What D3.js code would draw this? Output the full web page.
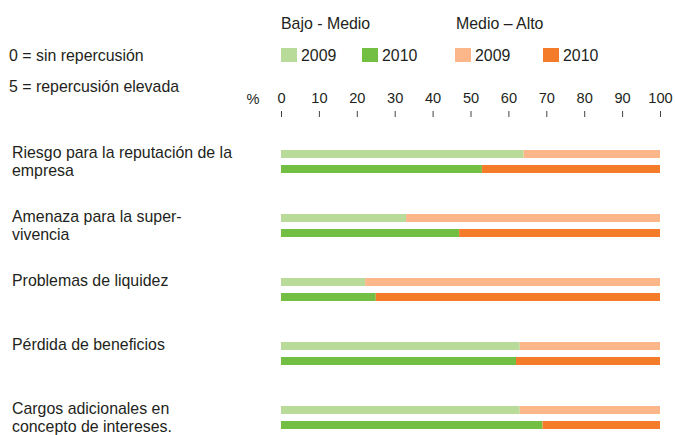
<!DOCTYPE html>
<html><head><meta charset="utf-8">
<script src="https://cdn.jsdelivr.net/npm/d3@7"></script>
<style>
html,body{margin:0;padding:0;background:#fff;}
svg{display:block;font-family:"Liberation Sans",Arial,Helvetica,sans-serif;}
</style></head>
<body><svg id="c" width="675" height="435"></svg>
<script>
const categories = [
  ["Riesgo para la reputación de la", "empresa"],
  ["Amenaza para la super-", "vivencia"],
  ["Problemas de liquidez"],
  ["Pérdida de beneficios"],
  ["Cargos adicionales en", "concepto de intereses."]
];
const bajoMedio2009 = [64, 33, 22.2, 63, 63];
const bajoMedio2010 = [53, 47, 25, 62, 69];
const medioAlto2009 = bajoMedio2009.map(v => 100 - v);
const medioAlto2010 = bajoMedio2010.map(v => 100 - v);
const tickValues = [0,10,20,30,40,50,60,70,80,90,100];
const colors = {lg:"#b8db9a", g:"#72bf44", lo:"#fbb78a", o:"#f47b2a"};

const svg = d3.select("#c");
const fs = 15.9;
const fsTick = 14.6;
const txt = "#231f20";
const x = d3.scaleLinear().domain([0,100]).range([281,660]);
const y = d3.scaleBand().domain(d3.range(categories.length)).range([142, 462]).paddingInner(0).paddingOuter(0);
const barH = 8;

// top notes
svg.append("text").attr("x",9).attr("y",61).attr("font-size",fs).attr("fill",txt).text("0 = sin repercusión");
svg.append("text").attr("x",9).attr("y",92).attr("font-size",fs).attr("fill",txt).text("5 = repercusión elevada");

// legend
const lg = svg.append("g");
lg.append("text").attr("x",281).attr("y",29).attr("font-size",fs).attr("fill",txt).text("Bajo - Medio");
lg.append("text").attr("x",456).attr("y",29).attr("font-size",fs).attr("fill",txt).text("Medio – Alto");
const items = [
  {c:colors.lg, t:"2009", x:281},
  {c:colors.g, t:"2010", x:362},
  {c:colors.lo, t:"2009", x:455},
  {c:colors.o, t:"2010", x:543}
];
items.forEach(d => {
  lg.append("rect").attr("x",d.x).attr("y",48).attr("width",16).attr("height",14).attr("fill",d.c);
  lg.append("text").attr("x",d.x+20).attr("y",61).attr("font-size",fs).attr("fill",txt).text(d.t);
});

// axis
const ax = svg.append("g").attr("transform","translate(0,111)")
  .call(d3.axisTop(x).tickValues(tickValues).tickSize(0).tickPadding(8).tickFormat(d3.format("d")));
ax.select(".domain").remove();
ax.selectAll("text").attr("font-size",fsTick).attr("fill",txt).attr("font-family",'"Liberation Sans",Arial,sans-serif');
ax.selectAll(".tick").append("line").attr("y1",0).attr("y2",6).attr("stroke","#444").attr("stroke-width",1);
svg.append("text").attr("x",253).attr("y",104).attr("text-anchor","middle").attr("font-size",fsTick).attr("fill",txt).text("%");

// bars
const rows = svg.append("g");
categories.forEach((cat,i) => {
  const y0 = y(i) + 8;
  const y1 = y0 + 15;
  rows.append("rect").attr("x",x(0)).attr("y",y0).attr("width",x(bajoMedio2009[i])-x(0)).attr("height",barH).attr("fill",colors.lg);
  rows.append("rect").attr("x",x(bajoMedio2009[i])).attr("y",y0).attr("width",x(bajoMedio2009[i]+medioAlto2009[i])-x(bajoMedio2009[i])).attr("height",barH).attr("fill",colors.lo);
  rows.append("rect").attr("x",x(0)).attr("y",y1).attr("width",x(bajoMedio2010[i])-x(0)).attr("height",barH).attr("fill",colors.g);
  rows.append("rect").attr("x",x(bajoMedio2010[i])).attr("y",y1).attr("width",x(bajoMedio2010[i]+medioAlto2010[i])-x(bajoMedio2010[i])).attr("height",barH).attr("fill",colors.o);
  const t = rows.append("text").attr("x",12).attr("y",y0+8).attr("font-size",fs).attr("fill",txt);
  cat.forEach((line,j) => t.append("tspan").attr("x",12).attr("dy", j===0?0:18).text(line));
});
</script></body></html>
